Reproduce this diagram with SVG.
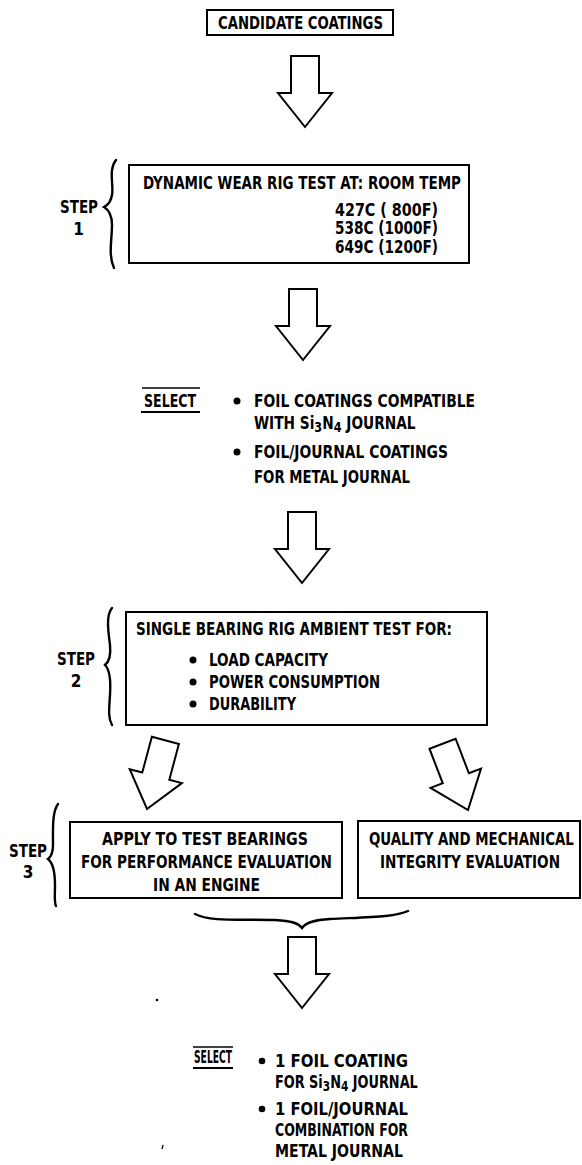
<svg xmlns="http://www.w3.org/2000/svg" width="582" height="1165" viewBox="0 0 582 1165">
<style>
  .t { font-family: "Liberation Sans Narrow", "DejaVu Sans Condensed", "Liberation Sans", sans-serif; font-weight: bold; font-size: 17px; fill: #000; }
  .box { fill: #fff; stroke: #000; stroke-width: 2; }
  .arrow { fill: #fff; stroke: #000; stroke-width: 2; stroke-linejoin: miter; }
  .brace { fill: none; stroke: #000; stroke-width: 2.4; stroke-linecap: round; }
  .rule { stroke: #000; }
</style>
<defs>
  <path id="bigArrow" class="arrow" d="M-14,-71 L14,-71 L14,-34 L27,-34 L0,0 L-27,-34 L-14,-34 Z"/>
</defs>
<rect width="582" height="1165" fill="#fff"/>

<g id="candidate">
  <rect class="box" x="207" y="10" width="186" height="25"/>
  <text class="t" x="218" y="28.5" font-size="18" textLength="165" lengthAdjust="spacingAndGlyphs">CANDIDATE COATINGS</text>
</g>

<g id="step1-label">
  <text class="t" x="60" y="213" textLength="38" lengthAdjust="spacingAndGlyphs">STEP</text>
  <text class="t" x="78.5" y="235" text-anchor="middle">1</text>
  <path class="brace" d="M116,160 C108,170 114,185 112,195 C111,201 108,205 104,207 C109,210 112,215 112,225 C112,240 108,255 114,268"/>
</g>

<g id="step1-box">
  <rect class="box" x="129" y="165" width="340" height="98"/>
  <text class="t" x="143" y="189" textLength="318" lengthAdjust="spacingAndGlyphs">DYNAMIC WEAR RIG TEST AT: ROOM TEMP</text>
  <text class="t" x="335" y="216" textLength="103" lengthAdjust="spacingAndGlyphs">427C ( 800F)</text>
  <text class="t" x="335" y="234" textLength="103" lengthAdjust="spacingAndGlyphs">538C (1000F)</text>
  <text class="t" x="335" y="253" textLength="103" lengthAdjust="spacingAndGlyphs">649C (1200F)</text>
</g>

<g id="select1">
  <line class="rule" x1="142" y1="388" x2="200" y2="388" stroke-width="1.5"/>
  <text class="t" x="144" y="407" textLength="52" lengthAdjust="spacingAndGlyphs">SELECT</text>
  <line class="rule" x1="141" y1="412" x2="200" y2="412" stroke-width="2"/>
  <circle cx="237" cy="401" r="3.5"/>
  <text class="t" x="254" y="407" textLength="221" lengthAdjust="spacingAndGlyphs">FOIL COATINGS COMPATIBLE</text>
  <text class="t" transform="translate(254,429) scale(0.85,1)" x="0" y="0" textLength="190" lengthAdjust="spacingAndGlyphs">WITH Si<tspan dy="3" font-size="14">3</tspan><tspan dy="-3">N</tspan><tspan dy="3" font-size="14">4</tspan><tspan dy="-3"> JOURNAL</tspan></text>
  <circle cx="237" cy="452" r="3.5"/>
  <text class="t" x="254" y="458" textLength="194" lengthAdjust="spacingAndGlyphs">FOIL/JOURNAL COATINGS</text>
  <text class="t" x="254" y="483" textLength="156" lengthAdjust="spacingAndGlyphs">FOR METAL JOURNAL</text>
</g>

<g id="step2-label">
  <text class="t" x="57" y="665" textLength="38" lengthAdjust="spacingAndGlyphs">STEP</text>
  <text class="t" x="76" y="687" text-anchor="middle">2</text>
  <path class="brace" d="M112,608 C106,615 108,630 110,645 C111,655 110,661 105,665 C110,670 111,680 110,695 C109,710 108,718 112,725"/>
</g>

<g id="step2-box">
  <rect class="box" x="126" y="612" width="361" height="113"/>
  <text class="t" x="136" y="635" textLength="316" lengthAdjust="spacingAndGlyphs">SINGLE BEARING RIG AMBIENT TEST FOR:</text>
  <circle cx="193" cy="660" r="3.5"/>
  <text class="t" x="209" y="666" textLength="119" lengthAdjust="spacingAndGlyphs">LOAD CAPACITY</text>
  <circle cx="193" cy="682" r="3.5"/>
  <text class="t" x="209" y="688" textLength="171" lengthAdjust="spacingAndGlyphs">POWER CONSUMPTION</text>
  <circle cx="193" cy="704" r="3.5"/>
  <text class="t" x="209" y="710" textLength="87" lengthAdjust="spacingAndGlyphs">DURABILITY</text>
</g>

<g id="step3-label">
  <text class="t" x="9" y="857" textLength="38" lengthAdjust="spacingAndGlyphs">STEP</text>
  <text class="t" x="28" y="878" text-anchor="middle">3</text>
  <path class="brace" d="M58,804 C52,812 53,830 53,845 C53,852 52,856 48,859 C53,863 55,870 55,885 C55,895 54,902 56,906"/>
</g>

<g id="engine-box">
  <rect class="box" x="70" y="822" width="272" height="76"/>
  <text class="t" x="102" y="845" textLength="206" lengthAdjust="spacingAndGlyphs">APPLY TO TEST BEARINGS</text>
  <text class="t" x="81" y="868" textLength="251" lengthAdjust="spacingAndGlyphs">FOR PERFORMANCE EVALUATION</text>
  <text class="t" x="153" y="891" textLength="107" lengthAdjust="spacingAndGlyphs">IN AN ENGINE</text>
</g>

<g id="quality-box">
  <rect class="box" x="358" y="821" width="222" height="77"/>
  <text class="t" transform="translate(369,845) scale(0.85,1)" x="0" y="0" textLength="241" lengthAdjust="spacingAndGlyphs">QUALITY AND MECHANICAL</text>
  <text class="t" x="380" y="868" textLength="180" lengthAdjust="spacingAndGlyphs">INTEGRITY EVALUATION</text>
</g>

<g id="select2">
  <line class="rule" x1="193" y1="1047" x2="233" y2="1047" stroke-width="1.5"/>
  <text class="t" x="194" y="1063" font-size="16" textLength="38" lengthAdjust="spacingAndGlyphs">SELECT</text>
  <line class="rule" x1="193" y1="1068" x2="233" y2="1068" stroke-width="2"/>
  <circle cx="262" cy="1061" r="3.3"/>
  <text class="t" x="275" y="1067" textLength="133" lengthAdjust="spacingAndGlyphs">1 FOIL COATING</text>
  <text class="t" transform="translate(275,1088) scale(0.85,1)" x="0" y="0" textLength="168" lengthAdjust="spacingAndGlyphs">FOR Si<tspan dy="3" font-size="14">3</tspan><tspan dy="-3">N</tspan><tspan dy="3" font-size="14">4</tspan><tspan dy="-3"> JOURNAL</tspan></text>
  <circle cx="262" cy="1109" r="3.3"/>
  <text class="t" x="275" y="1115" textLength="133" lengthAdjust="spacingAndGlyphs">1 FOIL/JOURNAL</text>
  <text class="t" x="275" y="1136" textLength="133" lengthAdjust="spacingAndGlyphs">COMBINATION FOR</text>
  <text class="t" x="275" y="1157" textLength="128" lengthAdjust="spacingAndGlyphs">METAL JOURNAL</text>
</g>

<g id="connectors">
  <use href="#bigArrow" transform="translate(305,127)"/>
  <use href="#bigArrow" transform="translate(303,360)"/>
  <use href="#bigArrow" transform="translate(302,583)"/>
  <use href="#bigArrow" transform="translate(147,809) rotate(15)"/>
  <use href="#bigArrow" transform="translate(468,810) rotate(-21)"/>
  <path class="brace" d="M195,914 C210,922 240,919 275,920 C292,921 298,923 302,928 C306,922 315,920 330,919 C370,917 395,917 408,911"/>
  <use href="#bigArrow" transform="translate(302,1008)"/>
</g>

<g id="specks">
  <circle cx="157" cy="1000" r="1.3"/>
  <path d="M163,1145 L162,1149" stroke="#000" stroke-width="1.3"/>
</g>
</svg>
